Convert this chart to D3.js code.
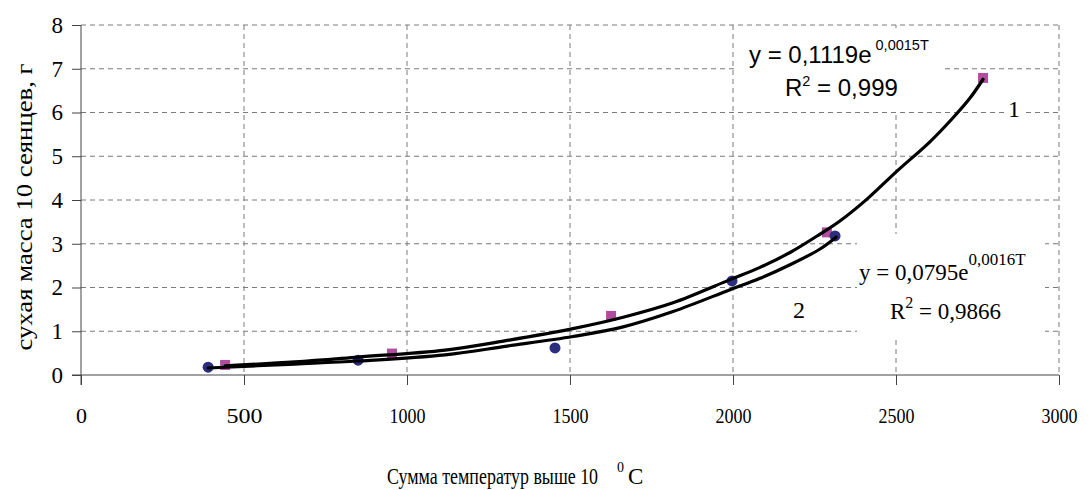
<!DOCTYPE html>
<html>
<head>
<meta charset="utf-8">
<script src="https://cdn.jsdelivr.net/npm/d3@7"></script>
<style>
  body { margin: 0; background: #fff; }
  text { font-family: "Liberation Serif", "Times New Roman", serif; fill: #000; }
</style>
</head>
<body>
<script>
// ---- data ----
var xTicks = [0, 500, 1000, 1500, 2000, 2500, 3000];
var yTicks = [0, 1, 2, 3, 4, 5, 6, 7, 8];

// series 1 (squares)
var s1T = [442, 954, 1626, 2288, 2767];
var s1Y = [0.23, 0.49, 1.35, 3.26, 6.79];
// series 2 (circles)
var s2T = [390, 850, 1454, 1997, 2313];
var s2Y = [0.18, 0.34, 0.62, 2.15, 3.18];

// trend curves, as drawn
var trend1T = [442, 656, 850, 1117, 1307, 1509, 1663, 1816, 1991, 2083, 2175, 2267, 2328, 2411, 2503, 2604, 2675, 2727, 2767];
var trend1Y = [0.21, 0.30, 0.41, 0.57, 0.79, 1.06, 1.32, 1.65, 2.18, 2.46, 2.80, 3.22, 3.52, 4.02, 4.66, 5.33, 5.88, 6.33, 6.76];
var trend2T = [390, 656, 850, 1117, 1307, 1509, 1663, 1816, 1991, 2083, 2175, 2267, 2316];
var trend2Y = [0.16, 0.25, 0.32, 0.46, 0.66, 0.88, 1.10, 1.45, 1.95, 2.21, 2.52, 2.88, 3.15];

var width = 1089, height = 490;
var margin = { left: 81, top: 25, right: 30, bottom: 115 };
var w = 1059 - margin.left, h = 375 - margin.top;

var svg = d3.select("body").append("svg")
  .attr("width", width).attr("height", height);
svg.append("rect").attr("width", width).attr("height", height).attr("fill", "#fff");

var g = svg.append("g").attr("transform", "translate(" + margin.left + "," + margin.top + ")");

var x = d3.scaleLinear().domain([0, 3000]).range([0, w]);
var y = d3.scaleLinear().domain([0, 8]).range([h, 0]);

// gridlines
g.append("g").selectAll("line").data(yTicks.slice(1)).enter().append("line")
  .attr("x1", 0).attr("x2", w)
  .attr("y1", d => y(d)).attr("y2", d => y(d))
  .attr("stroke", "#7a7a7a").attr("stroke-dasharray", "5,4");
g.append("g").selectAll("line").data(xTicks.slice(1)).enter().append("line")
  .attr("x1", d => x(d)).attr("x2", d => x(d))
  .attr("y1", 0).attr("y2", h)
  .attr("stroke", "#7a7a7a").attr("stroke-dasharray", "5,4");

// white label boxes (cover grid)
svg.append("rect").attr("x", 737).attr("y", 28).attr("width", 205).attr("height", 83).attr("fill", "#fff");
svg.append("rect").attr("x", 857).attr("y", 234).attr("width", 188).attr("height", 105).attr("fill", "#fff");
svg.append("rect").attr("x", 1006).attr("y", 100).attr("width", 18).attr("height", 20).attr("fill", "#fff");

// axes
var yAxis = d3.axisLeft(y).tickValues(yTicks).tickSize(9).tickPadding(9).tickFormat(d3.format("d"));
var xAxis = d3.axisBottom(x).tickValues(xTicks).tickSize(10).tickPadding(22).tickFormat(d3.format("d"));

var ya = g.append("g").call(yAxis);
ya.select(".domain").remove();
ya.append("line").attr("x1", 0).attr("x2", 0).attr("y1", 0).attr("y2", h + 10).attr("stroke", "#444");
ya.selectAll(".tick line").attr("stroke", "#444");
ya.selectAll("text").attr("font-size", 23).attr("fill", "#000")
  .style("font-family", "Liberation Serif");

var xa = g.append("g").attr("transform", "translate(0," + h + ")").call(xAxis);
xa.select(".domain").remove();
xa.append("line").attr("x1", -9).attr("x2", w).attr("y1", 0).attr("y2", 0).attr("stroke", "#444");
xa.selectAll(".tick line").attr("stroke", "#444");
xa.selectAll("text").attr("font-size", 22).attr("fill", "#000")
  .style("font-family", "Liberation Serif")
  .each(function(d) {
    if (String(d).length > 2) d3.select(this).attr("textLength", 36).attr("lengthAdjust", "spacingAndGlyphs");
  });

// markers
var s1 = s1T.map((t, i) => ({ T: t, v: s1Y[i] }));
var s2 = s2T.map((t, i) => ({ T: t, v: s2Y[i] }));

g.selectAll("rect.s1").data(s1).enter().append("rect")
  .attr("class", "s1")
  .attr("x", d => x(d.T) - 5).attr("y", d => y(d.v) - 5)
  .attr("width", 10).attr("height", 10)
  .attr("fill", "#b24c9f");

g.selectAll("circle.s2").data(s2).enter().append("circle")
  .attr("class", "s2")
  .attr("cx", d => x(d.T)).attr("cy", d => y(d.v)).attr("r", 5.5)
  .attr("fill", "#2b2d7e");

// trend curves
var line = d3.line().x(d => x(d.T)).y(d => y(d.v)).curve(d3.curveCatmullRom.alpha(0.5));
[[trend1T, trend1Y], [trend2T, trend2Y]].forEach(function(tr) {
  var pts = tr[0].map((t, i) => ({ T: t, v: tr[1][i] }));
  g.append("path")
    .attr("d", line(pts))
    .attr("fill", "none")
    .attr("stroke", "#000")
    .attr("stroke-width", 3.2)
    .attr("stroke-linejoin", "round")
    .attr("stroke-linecap", "round");
});

// equation 1 (Arial-like)
var e1 = svg.append("text").attr("x", 749).attr("y", 63)
  .style("font-family", "Liberation Sans").attr("font-size", 24);
e1.append("tspan").text("y = 0,1119e");
e1.append("tspan").attr("dx", 4).attr("dy", -13).attr("font-size", 14.5).text("0,0015T");
var r1 = svg.append("text").attr("x", 785).attr("y", 96)
  .style("font-family", "Liberation Sans").attr("font-size", 24);
r1.append("tspan").text("R");
r1.append("tspan").attr("dy", -10).attr("font-size", 14.5).text("2");
r1.append("tspan").attr("dy", 10).text(" = 0,999");

// equation 2 (Times-like)
var e2 = svg.append("text").attr("x", 859).attr("y", 280).attr("font-size", 23);
e2.append("tspan").text("y = 0,0795e");
e2.append("tspan").attr("dy", -15).attr("font-size", 17).text("0,0016T");
var r2 = svg.append("text").attr("x", 890).attr("y", 319).attr("font-size", 23);
r2.append("tspan").text("R");
r2.append("tspan").attr("dy", -11).attr("font-size", 16).text("2");
r2.append("tspan").attr("dy", 11).text(" = 0,9866");

// curve numbers
svg.append("text").attr("x", 1014).attr("y", 117).attr("text-anchor", "middle").attr("font-size", 24).text("1");
svg.append("text").attr("x", 799).attr("y", 318).attr("text-anchor", "middle").attr("font-size", 24).text("2");

// axis titles
svg.append("text")
  .attr("transform", "translate(32," + 207 + ") rotate(-90)")
  .attr("text-anchor", "middle")
  .attr("font-size", 23)
  .attr("textLength", 287).attr("lengthAdjust", "spacingAndGlyphs")
  .text("сухая масса 10 сеянцев, г");

// condensed x title: scaled horizontally so its box is the drawn width
svg.append("text").attr("transform", "translate(387,484) scale(0.78,1)")
  .attr("font-size", 23)
  .text("Сумма температур выше 10");
svg.append("text").attr("x", 617).attr("y", 472).attr("font-size", 14).text("0");
svg.append("text").attr("x", 628).attr("y", 484).attr("font-size", 23).text("C");
</script>
</body>
</html>
